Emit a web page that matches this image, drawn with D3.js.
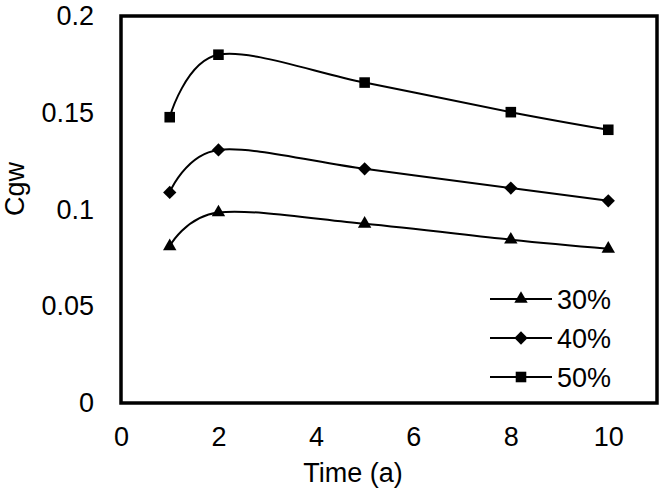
<!DOCTYPE html>
<html>
<head>
<meta charset="utf-8">
<script src="https://cdn.jsdelivr.net/npm/d3@7"></script>
<style>
  body { margin: 0; background: #fff; }
  text { font-family: "Liberation Sans", Arial, sans-serif; fill: #000; }
</style>
</head>
<body>
<svg id="chart" width="664" height="493"></svg>
<script>
const times = [1, 2, 5, 8, 10]
const seriesNames = ['30%', '40%', '50%']
const values30 = [0.081, 0.0985, 0.0926, 0.0844, 0.0797]
const values40 = [0.1088, 0.1308, 0.121, 0.1111, 0.1045]
const values50 = [0.1477, 0.18, 0.1656, 0.1503, 0.1412]
const xTicks = [0, 2, 4, 6, 8, 10]
const yTicks = [0, 0.05, 0.1, 0.15, 0.2]

const width = 664, height = 493
const MARGIN = { top: 16, right: 7, bottom: 90, left: 121 }
const boundedWidth = width - MARGIN.left - MARGIN.right
const boundedHeight = height - MARGIN.top - MARGIN.bottom

const $svg = d3.select('#chart')
const $g = $svg.append('g').attr('transform', `translate(${MARGIN.left},${MARGIN.top})`)

const x = d3.scaleLinear().domain([0, 11]).range([0, boundedWidth])
const y = d3.scaleLinear().domain([0, 0.2]).range([boundedHeight, 0])

// markers: triangle, diamond, square
const symbols = [
    d3.symbol().type(d3.symbolTriangle).size(78)(),
    d3.symbol().type(d3.symbolSquare).size(88)(),
    d3.symbol().type(d3.symbolSquare).size(112)()
]
const rotations = [0, 45, 0]

const series = [values30, values40, values50].map((vals, i) => ({
    name: seriesNames[i],
    points: times.map((t, j) => ({ t, v: vals[j] })),
    i
}))

const line = d3.line()
    .x(d => x(d.t))
    .y(d => y(d.v))
    .curve(d3.curveCardinal.tension(0))

// axes (labels only, Excel style)
const xAxis = d3.axisBottom(x).tickValues(xTicks).tickSize(0).tickPadding(24).tickFormat(d3.format('d'))
const yAxis = d3.axisLeft(y).tickValues(yTicks).tickSize(0).tickPadding(27).tickFormat(d => d === 0 ? '0' : String(+d.toFixed(2)))

const $x = $g.append('g').attr('transform', `translate(0,${boundedHeight})`).call(xAxis)
const $y = $g.append('g').call(yAxis)
$x.select('.domain').remove()
$y.select('.domain').remove()
$x.selectAll('text').style('font-size', '27px').style('font-family', '"Liberation Sans", Arial, sans-serif')
$y.selectAll('text').style('font-size', '27px').style('font-family', '"Liberation Sans", Arial, sans-serif')

// series
series.forEach(s => {
    $g.append('path')
        .attr('d', line(s.points))
        .attr('fill', 'none')
        .attr('stroke', '#000')
        .attr('stroke-width', 2)
    $g.selectAll(`.m${s.i}`)
        .data(s.points)
        .enter()
        .append('path')
        .attr('class', `m${s.i}`)
        .attr('d', symbols[s.i])
        .attr('transform', d => `translate(${x(d.t)},${y(d.v)}) rotate(${rotations[s.i]})`)
        .attr('fill', '#000')
})

// plot border
$g.append('rect')
    .attr('width', boundedWidth)
    .attr('height', boundedHeight)
    .attr('fill', 'none')
    .attr('stroke', '#000')
    .attr('stroke-width', 3.5)

// legend
const legend = $svg.append('g')
seriesNames.forEach((name, i) => {
    const ly = 299 + i * 39
    legend.append('line')
        .attr('x1', 490).attr('x2', 552)
        .attr('y1', ly).attr('y2', ly)
        .attr('stroke', '#000').attr('stroke-width', 2)
    legend.append('path')
        .attr('d', symbols[i])
        .attr('transform', `translate(521,${ly}) rotate(${rotations[i]})`)
        .attr('fill', '#000')
    legend.append('text')
        .attr('x', 557).attr('y', ly + 10)
        .style('font-size', '27px')
        .text(name)
})

// axis titles
$svg.append('text')
    .attr('x', 353).attr('y', 482)
    .attr('text-anchor', 'middle')
    .style('font-size', '27px')
    .text('Time (a)')

$svg.append('text')
    .attr('transform', 'translate(24,189) rotate(-90)')
    .attr('text-anchor', 'middle')
    .style('font-size', '27px')
    .text('Cgw')
</script>
</body>
</html>
